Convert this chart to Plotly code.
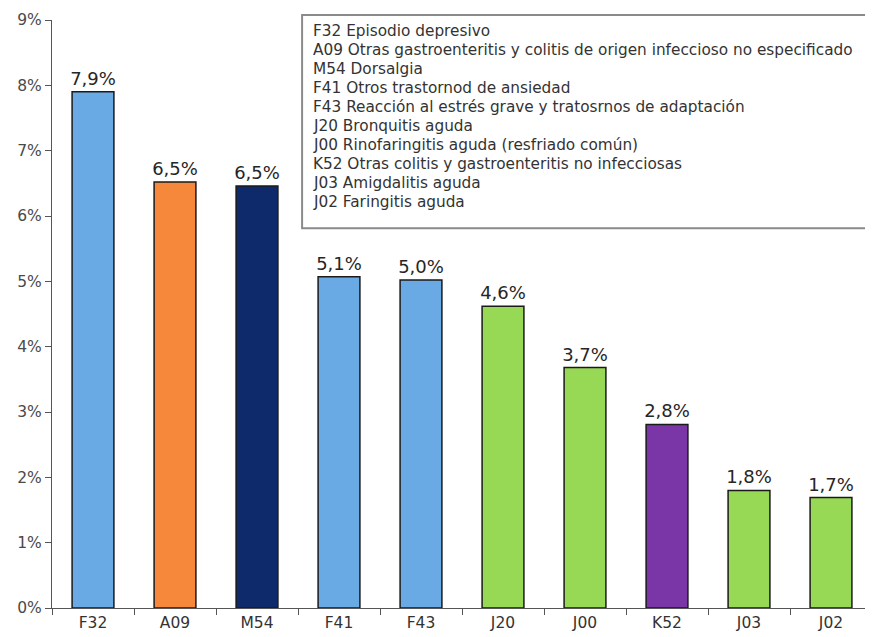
import plotly.graph_objects as go

categories = ["F32", "A09", "M54", "F41", "F43", "J20", "J00", "K52", "J03", "J02"]
values = [7.9, 6.52, 6.46, 5.07, 5.02, 4.62, 3.68, 2.81, 1.80, 1.69]
value_labels = ["7,9%", "6,5%", "6,5%", "5,1%", "5,0%", "4,6%", "3,7%", "2,8%", "1,8%", "1,7%"]
bar_colors = ["#6AAAE4", "#F5883A", "#0E2A6A", "#6AAAE4", "#6AAAE4",
              "#97D955", "#97D955", "#7A36A6", "#97D955", "#97D955"]
y_ticks = [0, 1, 2, 3, 4, 5, 6, 7, 8, 9]
y_tick_labels = ["0%", "1%", "2%", "3%", "4%", "5%", "6%", "7%", "8%", "9%"]
legend_lines = [
    "F32 Episodio depresivo",
    "A09 Otras gastroenteritis y colitis de origen infeccioso no especificado",
    "M54 Dorsalgia",
    "F41 Otros trastornod de ansiedad",
    "F43 Reacción al estrés grave y tratosrnos de adaptación",
    "J20 Bronquitis aguda",
    "J00 Rinofaringitis aguda (resfriado común)",
    "K52 Otras colitis y gastroenteritis no infecciosas",
    "J03 Amigdalitis aguda",
    "J02 Faringitis aguda",
]

FONT = "DejaVu Sans"
PLOT_H = 588.0  # plot area height in px
LINE_STEP = 18.9 / PLOT_H
FIRST_LINE_Y = (608 - 31.5) / PLOT_H

fig = go.Figure(go.Bar(
    x=categories, y=values,
    marker=dict(color=bar_colors, line=dict(color="#1A1A1A", width=1.5)),
    width=0.51,
    text=value_labels, textposition="outside", constraintext="none",
    textfont=dict(family=FONT, size=18, color="#262626"),
    cliponaxis=False,
))

# page body has an 8px default margin, so the figure is sized to fit the 873x637 window
fig.update_layout(
    width=865, height=629,
    margin=dict(l=44, r=1, t=12, b=29),
    plot_bgcolor="white", paper_bgcolor="white",
    showlegend=False,
    font=dict(family=FONT, color="#404040"),
    bargap=0.49,
)
fig.update_xaxes(
    automargin=False,
    showline=True, linecolor="#555555", linewidth=1.2,
    ticks="outside", ticklen=6, tickcolor="#555555", tickson="boundaries",
    tickfont=dict(family=FONT, size=15.5, color="#333333"),
    showgrid=False, range=[-0.5, 9.5],
)
fig.update_yaxes(
    automargin=False,
    range=[0, 9], tickvals=y_ticks, ticktext=y_tick_labels,
    showline=True, linecolor="#555555", linewidth=1.2,
    ticks="outside", ticklen=6, tickcolor="#555555",
    tickfont=dict(family=FONT, size=15.5, color="#4A4A4A"),
    showgrid=False, zeroline=False,
)

fig.add_shape(type="rect", xref="paper", yref="paper",
              x0=0.305, x1=0.9927, y0=0.646, y1=1.0085,
              line=dict(color="#8A8A8A", width=2), fillcolor="white", layer="above")
for i, line in enumerate(legend_lines):
    fig.add_annotation(
        xref="paper", yref="paper", x=0.316, y=FIRST_LINE_Y - i * LINE_STEP,
        xanchor="left", yanchor="middle",
        text=line, align="left", showarrow=False,
        font=dict(family=FONT, size=15.3, color="#333333"),
    )

fig.write_html("out.html")
